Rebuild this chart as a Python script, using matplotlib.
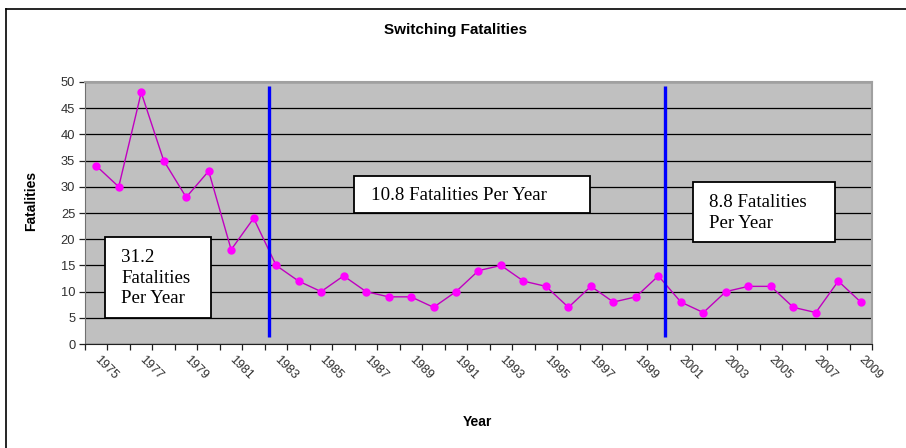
import numpy as np
import matplotlib
matplotlib.use("Agg")
import matplotlib.pyplot as plt
from matplotlib.patches import Rectangle
from matplotlib.lines import Line2D

years = list(range(1975, 2010))
fatalities = [34, 30, 48, 35, 28, 33, 18, 24, 15, 12, 10, 13, 10, 9, 9, 7, 10, 14,
              15, 12, 11, 7, 11, 8, 9, 13, 8, 6, 10, 11, 11, 7, 6, 12, 8]
# period separators (in category units, between years)
breaks = [7.7, 25.3]
notes = ["31.2\nFatalities\nPer Year", "10.8 Fatalities Per Year", "8.8 Fatalities\nPer Year"]

W, H = 906, 448
fig = plt.figure(figsize=(W / 100, H / 100), dpi=100)
fig.patch.set_facecolor("white")

def fx(px):
    return px / W

def fy(py):
    return 1 - py / H

ax = fig.add_axes([fx(85), fy(344), fx(872) - fx(85), fy(82) - fy(344)])
ax.set_facecolor("#c0c0c0")

x = np.arange(len(years))
ax.plot(x, fatalities, color="#c000c0", lw=1.0, zorder=3)
ax.plot(x, fatalities, "o", color="#ff00ff", ms=5, mec="#ff00ff", zorder=4)

ax.vlines(breaks, 1.4, 49.3, color="#0000ff", lw=2.4, zorder=5)

ax.set_xlim(-0.5, len(years) - 0.5)
ax.set_ylim(0, 50)
ax.set_yticks(np.arange(0, 51, 5))
ax.yaxis.grid(True, color="#000000", lw=0.9, zorder=1)
ax.set_axisbelow(True)

ax.set_xticks(x[::2])
ax.set_xticklabels([str(y) for y in years[::2]], rotation=-45, ha="left", va="center",
                   rotation_mode="anchor", fontsize=9, color="#303030", family="Liberation Sans")
ax.set_xticks(np.arange(-0.5, len(years)), minor=True)
ax.tick_params(axis="x", which="major", length=0, pad=10)
ax.tick_params(axis="x", which="minor", length=4, width=0.9, color="#202020", direction="out")
ax.tick_params(axis="y", length=4, width=0.9, color="#202020", labelsize=9.3,
               labelcolor="#303030", pad=3)
for lab in ax.get_yticklabels():
    lab.set_family("Liberation Sans")

ax.spines["left"].set_color("#707070")
ax.spines["bottom"].set_color("#202020")
for s in ["top", "right"]:
    ax.spines[s].set_color("#a0a0a0")
    ax.spines[s].set_linewidth(1.5)

# annotation boxes (pixel boxes converted to axes fractions)
def ax_box(x0, y0, x1, y1):
    return ((x0 - 85) / 787, (344 - y1) / 262, (x1 - x0) / 787, (y1 - y0) / 262)

boxes = [(105, 237, 211, 318), (354, 176, 590, 213), (693, 182, 835, 242)]
text_pos = [(121, 278), (371, 195), (709, 213)]
for (bx0, by0, bx1, by1), (tx, ty), note in zip(boxes, text_pos, notes):
    a, b, w, h = ax_box(bx0, by0, bx1, by1)
    ax.add_patch(Rectangle((a, b), w, h, transform=ax.transAxes, facecolor="white",
                           edgecolor="black", lw=1.3, zorder=6))
    ax.text((tx - 85) / 787, (344 - ty) / 262, note, transform=ax.transAxes,
            ha="left", va="center", fontsize=13.6, family="Liberation Serif",
            linespacing=1.28, zorder=7)

fig.text(fx(455), fy(30), "Switching Fatalities", ha="center", va="center",
         fontsize=11, fontweight="bold", family="Liberation Sans")
fig.text(fx(31.5), fy(201), "Fatalities", ha="center", va="center", rotation=90,
         fontsize=10, fontweight="bold", family="Liberation Sans")
fig.text(fx(477), fy(422), "Year", ha="center", va="center",
         fontsize=10, fontweight="bold", family="Liberation Sans")

# outer chart frame (left and top edges visible)
fig.add_artist(Line2D([fx(5.5), fx(5.5)], [fy(9), 0], color="black", lw=1.2))
fig.add_artist(Line2D([fx(5.5), 1], [fy(9), fy(9)], color="black", lw=1.2))

fig.savefig("out.png", dpi=100)
